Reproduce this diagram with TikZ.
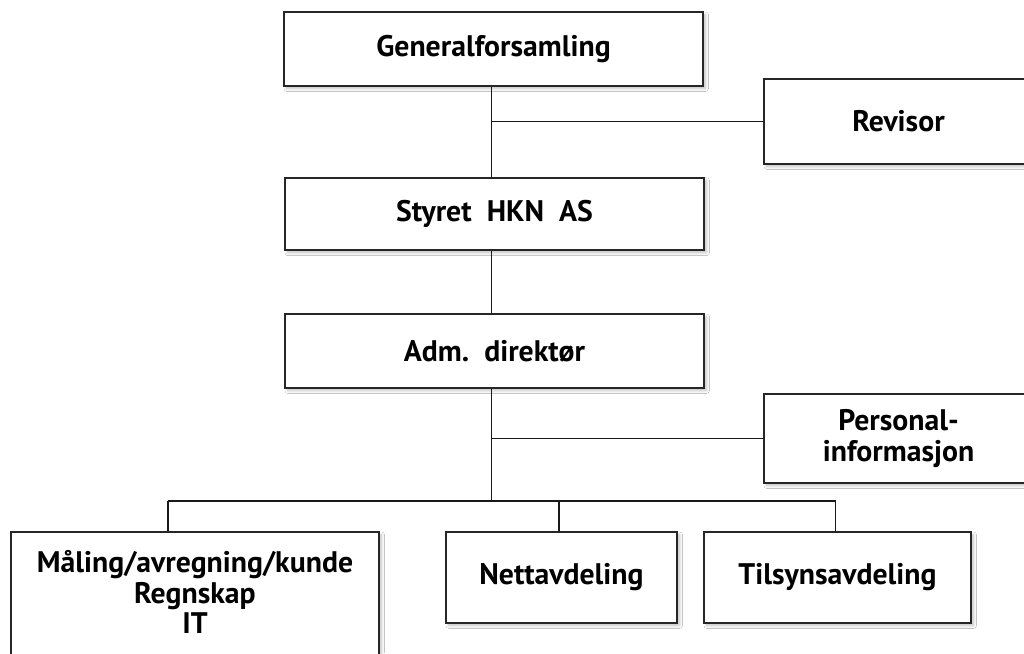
\documentclass[tikz,border=0pt]{standalone}
\usepackage{fontspec}
\setmainfont{PT Sans}
\usetikzlibrary{shadows.blur}
\begin{document}
\begin{tikzpicture}[x=0.75pt,y=-0.75pt,
  orgbox/.style={draw=black!85, line width=1.2pt, fill=white, rectangle,
    align=center, inner sep=0pt,
    font=\fontsize{22.3}{23}\selectfont\bfseries,
    blur shadow={shadow xshift=2pt, shadow yshift=-2pt, shadow blur steps=6, shadow opacity=25}},
  boxtext/.style={font=\fontsize{22.3}{23}\selectfont\bfseries, align=center, inner sep=0pt},
  link/.style={draw=black!90, line width=0.9pt}]
\useasboundingbox (0,0) rectangle (1024,653);
\fill[white] (0,0) rectangle (1024,653);
\node[orgbox, minimum width=419*0.75pt, minimum height=74*0.75pt] (gf) at (493.5,49) {Generalforsamling};
\node[orgbox, minimum width=269*0.75pt, minimum height=85*0.75pt] (rev) at (898.5,121.5) {Revisor};
\node[orgbox, minimum width=419*0.75pt, minimum height=72.5*0.75pt] (sty) at (494.5,214) {Styret\ \ HKN\ \ AS};
\node[orgbox, minimum width=419*0.75pt, minimum height=74*0.75pt] (adm) at (494.5,351) {Adm.\ \ direktør};
\node[orgbox, minimum width=269*0.75pt, minimum height=89*0.75pt] (per) at (898.5,438.5) {Personal-\\informasjon};
\node[orgbox, minimum width=368*0.75pt, minimum height=128*0.75pt] (mal) at (195,596) {};
\node[boxtext] (maltxt) at (195,592) {Måling/avregning/kunde\\Regnskap\\IT};
\node[orgbox, minimum width=231*0.75pt, minimum height=91*0.75pt] (net) at (561.5,577.5) {Nettavdeling};
\node[orgbox, minimum width=267*0.75pt, minimum height=91*0.75pt] (til) at (837.5,577.5) {Tilsynsavdeling};
\coordinate (bus) at (491.5,501);
\coordinate (t1) at (168,501);
\coordinate (t2) at (559,501);
\coordinate (t3) at (835.7,501);
\draw[link] (gf.south -| bus) -- (sty.north -| bus);
\draw[link] (sty.south -| bus) -- (adm.north -| bus);
\draw[link] (adm.south -| bus) -- (bus);
\draw[link] (bus |- rev.west) -- (rev.west);
\draw[link] (bus |- per.west) -- (per.west);
\draw[link] (t1) -- (t3);
\draw[link] (t1) -- (t1 |- mal.north);
\draw[link] (t2) -- (t2 |- net.north);
\draw[link] (t3) -- (t3 |- til.north);
\end{tikzpicture}
\end{document}
